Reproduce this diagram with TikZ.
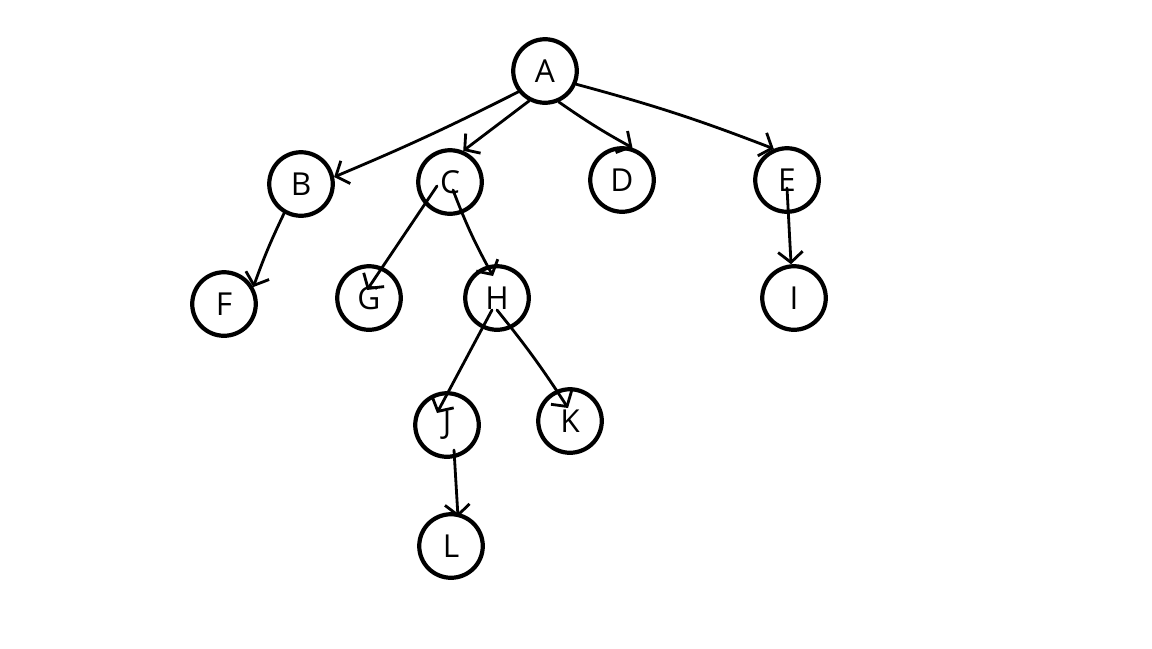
\documentclass[tikz,border=0pt]{standalone}
\usepackage{fontspec}
\setmainfont{Open Sans}
\usetikzlibrary{arrows.meta,calc}
\begin{document}
\begin{tikzpicture}[x=0.01cm,y=-0.01cm,
  vert/.style={draw,circle,line width=1.2pt,minimum size=0.635cm,inner sep=0pt,font=\fontsize{9}{10}\selectfont},
  edge/.style={line width=0.8pt,line cap=round,line join=round,-{Straight Barb[length=3pt,width=7pt,line width=0.8pt]}}]
\useasboundingbox[fill=white] (0,0) rectangle (1152,648);
\node[vert] (A) at (545,71) {A};
\node[vert] (B) at (301,184) {B};
\node[vert] (C) at (450,182) {C};
\node[vert] (D) at (622,180) {D};
\node[vert] (E) at (787,180) {E};
\node[vert] (F) at (224,304) {F};
\node[vert] (G) at (369,298) {G};
\node[vert] (H) at (497,298) {H};
\node[vert] (I) at (794,298) {I};
\node[vert] (J) at (447,425) {J};
\node[vert] (K) at (570,421) {K};
\node[vert] (L) at (451,546) {L};
\draw[edge] (A.218) to[bend left=2] (B.12);
\draw[edge] (A.242) -- (C.67);
\draw[edge] (A.294) to[bend right=3] (D.72);
\draw[edge] (A.337) to[bend left=3] (E.113);
\draw[edge] ($(E)+(0,8)$) -- (I.95);
\draw[edge] (B.240) to[bend right=3] (F.30);
\draw[edge] ($(C)+(-13,4)$) -- ($(G)+(-2,-8)$);
\draw[edge] ($(C)+(3,8)$) to[bend right=4] ($(H)+(-4,-22)$);
\draw[edge] ($(H)+(-5,12)$) -- ($(J)+(-10,-12)$);
\draw[edge] ($(H)+(0,12)$) to[bend left=3] ($(K)+(-2,-13)$);
\draw[edge] ($(J)+(7,25)$) -- ($(L)+(7,-29)$);
\end{tikzpicture}
\end{document}
